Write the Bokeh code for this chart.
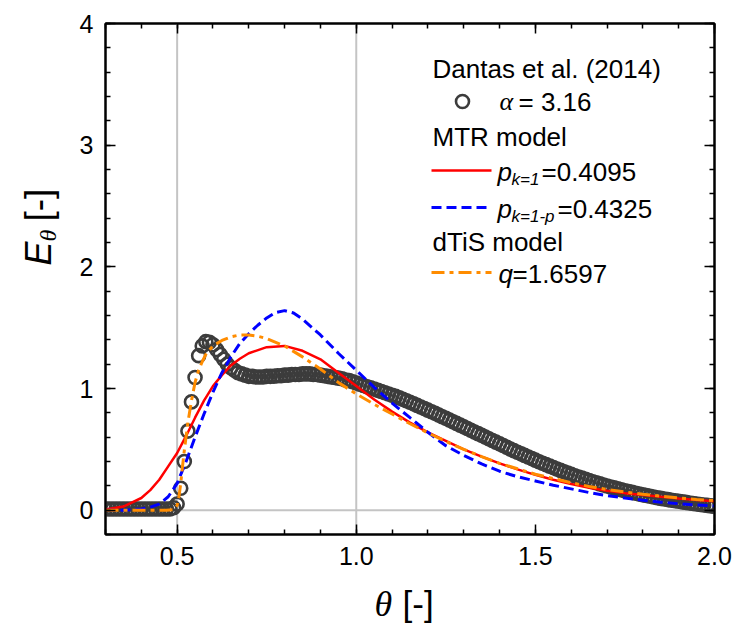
import numpy as np
from bokeh.plotting import figure
from bokeh.layouts import row, column
from bokeh.models import (Range1d, LinearAxis, SingleIntervalTicker, Span, Label,
                          PrintfTickFormatter, CustomJSTickFormatter)
from bokeh.embed import file_html
from bokeh.resources import INLINE

# ---------------- data ----------------
theta_exp = [
    0.30, 0.31, 0.32, 0.33, 0.34, 0.35, 0.36, 0.37, 0.38, 0.39,
    0.40, 0.41, 0.42, 0.43, 0.44, 0.45, 0.46, 0.47, 0.48, 0.49,
    0.50, 0.51, 0.52, 0.53, 0.54, 0.55, 0.56, 0.57, 0.58, 0.59,
    0.60, 0.61, 0.62, 0.63, 0.64, 0.65, 0.66, 0.67, 0.68, 0.69,
    0.70, 0.71, 0.72, 0.73, 0.74, 0.75, 0.76, 0.77, 0.78, 0.79,
    0.80, 0.81, 0.82, 0.83, 0.84, 0.85, 0.86, 0.87, 0.88, 0.89,
    0.90, 0.91, 0.92, 0.93, 0.94, 0.95, 0.96, 0.97, 0.98, 0.99,
    1.00, 1.01, 1.02, 1.03, 1.04, 1.05, 1.06, 1.07, 1.08, 1.09,
    1.10, 1.11, 1.12, 1.13, 1.14, 1.15, 1.16, 1.17, 1.18, 1.19,
    1.20, 1.21, 1.22, 1.23, 1.24, 1.25, 1.26, 1.27, 1.28, 1.29,
    1.30, 1.31, 1.32, 1.33, 1.34, 1.35, 1.36, 1.37, 1.38, 1.39,
    1.40, 1.41, 1.42, 1.43, 1.44, 1.45, 1.46, 1.47, 1.48, 1.49,
    1.50, 1.51, 1.52, 1.53, 1.54, 1.55, 1.56, 1.57, 1.58, 1.59,
    1.60, 1.61, 1.62, 1.63, 1.64, 1.65, 1.66, 1.67, 1.68, 1.69,
    1.70, 1.71, 1.72, 1.73, 1.74, 1.75, 1.76, 1.77, 1.78, 1.79,
    1.80, 1.81, 1.82, 1.83, 1.84, 1.85, 1.86, 1.87, 1.88, 1.89,
    1.90, 1.91, 1.92, 1.93, 1.94, 1.95, 1.96, 1.97, 1.98, 1.99,
    2.00,
]
E_exp = [
    0.01, 0.01, 0.01, 0.01, 0.01, 0.01, 0.01, 0.01, 0.01, 0.01,
    0.01, 0.01, 0.01, 0.01, 0.01, 0.01, 0.01, 0.01, 0.01, 0.02,
    0.05, 0.18, 0.40, 0.65, 0.89, 1.09, 1.27, 1.35, 1.385, 1.38,
    1.36, 1.32, 1.28, 1.24, 1.20, 1.17, 1.15, 1.13, 1.12, 1.11,
    1.10, 1.10, 1.095, 1.095, 1.095, 1.10, 1.10, 1.10, 1.105, 1.105,
    1.11, 1.11, 1.115, 1.115, 1.115, 1.12, 1.12, 1.12, 1.115, 1.115,
    1.11, 1.105, 1.10, 1.095, 1.09, 1.085, 1.08, 1.07, 1.065, 1.055,
    1.045, 1.035, 1.025, 1.015, 1.005, 0.995, 0.985, 0.975, 0.965, 0.955,
    0.945, 0.935, 0.923, 0.911, 0.899, 0.887, 0.874, 0.861, 0.848, 0.835,
    0.822, 0.809, 0.796, 0.782, 0.768, 0.755, 0.741, 0.727, 0.713, 0.699,
    0.685, 0.671, 0.657, 0.643, 0.629, 0.615, 0.601, 0.587, 0.573, 0.559,
    0.545, 0.531, 0.517, 0.503, 0.489, 0.476, 0.463, 0.450, 0.437, 0.424,
    0.411, 0.398, 0.386, 0.374, 0.362, 0.350, 0.338, 0.327, 0.316, 0.305,
    0.294, 0.283, 0.273, 0.263, 0.253, 0.243, 0.234, 0.225, 0.216, 0.207,
    0.199, 0.191, 0.183, 0.175, 0.167, 0.160, 0.153, 0.146, 0.139, 0.132,
    0.126, 0.120, 0.114, 0.108, 0.102, 0.097, 0.092, 0.087, 0.082, 0.077,
    0.073, 0.068, 0.064, 0.059, 0.055, 0.051, 0.047, 0.043, 0.039, 0.035,
    0.031,
]

# MTR model, p_{k=1} = 0.4095 (red solid)
theta_mtr1 = [0.30, 0.35, 0.40, 0.425, 0.45, 0.475, 0.50, 0.525, 0.55, 0.575,
              0.60, 0.625, 0.65, 0.675, 0.70, 0.75, 0.80, 0.85, 0.90, 0.95,
              1.00, 1.05, 1.10, 1.15, 1.20, 1.25, 1.30, 1.35, 1.40, 1.45,
              1.50, 1.55, 1.60, 1.65, 1.70, 1.75, 1.80, 1.85, 1.90, 1.95, 2.00]
E_mtr1 = [0.005, 0.03, 0.10, 0.165, 0.25, 0.36, 0.47, 0.61, 0.76, 0.90,
          1.02, 1.11, 1.19, 1.245, 1.29, 1.34, 1.35, 1.31, 1.24, 1.13,
          1.02, 0.91, 0.81, 0.72, 0.64, 0.57, 0.50, 0.44, 0.385, 0.335,
          0.29, 0.25, 0.215, 0.185, 0.16, 0.14, 0.125, 0.11, 0.096, 0.084, 0.074]

# MTR model, p_{k=1-p} = 0.4325 (blue dashed)
theta_mtr2 = [0.30, 0.35, 0.40, 0.425, 0.45, 0.475, 0.50, 0.525, 0.55, 0.575,
              0.60, 0.625, 0.65, 0.675, 0.70, 0.725, 0.75, 0.775, 0.80, 0.825,
              0.85, 0.90, 0.95, 1.00, 1.05, 1.10, 1.15, 1.20, 1.25, 1.30,
              1.35, 1.40, 1.45, 1.50, 1.55, 1.60, 1.65, 1.70, 1.75, 1.80,
              1.85, 1.90, 1.95, 2.00]
E_mtr2 = [0.0, 0.0, 0.01, 0.025, 0.05, 0.11, 0.22, 0.40, 0.60, 0.79,
          0.97, 1.13, 1.26, 1.37, 1.45, 1.52, 1.58, 1.625, 1.64, 1.62,
          1.57, 1.44, 1.29, 1.15, 1.01, 0.88, 0.76, 0.64, 0.53, 0.45,
          0.38, 0.32, 0.275, 0.24, 0.205, 0.175, 0.145, 0.12, 0.10, 0.082,
          0.066, 0.053, 0.043, 0.035]

# dTiS model, q = 1.6597 (orange dash-dot)
theta_dtis = [0.30, 0.40, 0.47, 0.49, 0.50, 0.505, 0.51, 0.515, 0.52, 0.53,
              0.54, 0.55, 0.56, 0.57, 0.58, 0.60, 0.625, 0.65, 0.675, 0.70,
              0.725, 0.75, 0.80, 0.85, 0.90, 0.95, 1.00, 1.05, 1.10, 1.15,
              1.20, 1.25, 1.30, 1.35, 1.40, 1.45, 1.50, 1.55, 1.60, 1.65,
              1.70, 1.75, 1.80, 1.85, 1.90, 1.95, 2.00]
E_dtis = [0.0, 0.0, 0.0, 0.005, 0.04, 0.11, 0.22, 0.36, 0.49, 0.72,
          0.90, 1.05, 1.15, 1.22, 1.28, 1.35, 1.395, 1.425, 1.44, 1.44,
          1.43, 1.41, 1.35, 1.26, 1.16, 1.05, 0.955, 0.87, 0.79, 0.71,
          0.635, 0.565, 0.50, 0.44, 0.385, 0.34, 0.295, 0.26, 0.225, 0.195,
          0.17, 0.15, 0.13, 0.115, 0.10, 0.088, 0.078]

x_range = (0.3, 2.0)
y_range = (-0.2, 4.0)
ref_x = [0.5, 1.0]
ref_y = [0.0]

# ---------------- layout (page pixels) ----------------
W, H = 738, 626
LW = 60            # width of the strip holding the y-axis title
MH = 585           # height of the main figure
FL, FR, FT, FB = 105, 714, 23, 534  # frame edges in page pixels

def px2x(px):
    return x_range[0] + (px - FL) / (FR - FL) * (x_range[1] - x_range[0])

def px2y(py):
    return y_range[0] + (FB - py) / (FB - FT) * (y_range[1] - y_range[0])

SANS = "Liberation Sans"
SERIF = "Liberation Serif"

p = figure(width=W - LW, height=MH, x_range=Range1d(*x_range), y_range=Range1d(*y_range),
           output_backend="svg", toolbar_location=None,
           x_axis_type=None, y_axis_type=None,
           min_border_left=FL - LW, min_border_right=W - FR,
           min_border_top=FT, min_border_bottom=MH - FB)
p.outline_line_color = "black"
p.outline_line_width = 2
p.background_fill_color = "white"
p.border_fill_color = "white"

def style_axis(ax, show_labels):
    ax.axis_line_width = 2
    ax.axis_line_color = "black"
    ax.major_tick_in = 10
    ax.major_tick_out = 0
    ax.minor_tick_in = 5
    ax.minor_tick_out = 0
    ax.major_tick_line_width = 1.5
    ax.minor_tick_line_width = 1.5
    ax.major_tick_line_color = "black"
    ax.minor_tick_line_color = "black"
    ax.major_label_text_font = SANS
    ax.major_label_text_font_size = "25px"
    ax.major_label_text_color = "black"
    if not show_labels:
        ax.formatter = CustomJSTickFormatter(code="return ''")
        ax.major_label_text_font_size = "1px"

xb = LinearAxis(ticker=SingleIntervalTicker(interval=0.5, num_minor_ticks=5),
                formatter=PrintfTickFormatter(format="%.1f"))
style_axis(xb, True)
xb.major_label_standoff = 12
p.add_layout(xb, "below")
xt = LinearAxis(ticker=SingleIntervalTicker(interval=0.5, num_minor_ticks=5))
style_axis(xt, False)
p.add_layout(xt, "above")
yl = LinearAxis(ticker=SingleIntervalTicker(interval=1, num_minor_ticks=5),
                formatter=PrintfTickFormatter(format="%d"))
style_axis(yl, True)
yl.major_label_standoff = 12
p.add_layout(yl, "left")
yr = LinearAxis(ticker=SingleIntervalTicker(interval=1, num_minor_ticks=5))
style_axis(yr, False)
p.add_layout(yr, "right")

for v in ref_x:
    p.add_layout(Span(location=v, dimension="height", line_color="#c4c4c4",
                      line_width=2, level="underlay"))
for v in ref_y:
    p.add_layout(Span(location=v, dimension="width", line_color="#c4c4c4",
                      line_width=2, level="underlay"))

# ---------------- series ----------------
CIRC = "#3c3c3c"
RED, BLUE, ORANGE = "#FF0000", "#0000FF", "#FF8C00"
BLUE_DASH, OR_DASH = "10 5", "13 5 4 5"

p.scatter(theta_exp, E_exp, marker="circle", size=13, fill_color=None,
          line_color=CIRC, line_width=2.6)
p.line(theta_mtr1, E_mtr1, line_color=RED, line_width=2.5)
p.line(theta_mtr2, E_mtr2, line_color=BLUE, line_width=3, line_dash=BLUE_DASH)
p.line(theta_dtis, E_dtis, line_color=ORANGE, line_width=3, line_dash=OR_DASH)

# ---------------- text helper ----------------
def txt(fig, ox, oy, oh, px, py, s, size, font=SANS, style="normal", angle=0):
    """Place text at page pixel (px, py) in a figure whose frame starts at page
    x = ox and whose frame bottom is at page y = oy + oh."""
    fig.add_layout(Label(x=px - ox, y=(oy + oh) - py, x_units="screen", y_units="screen",
                         text=s, text_font=font,
                         text_font_size=f"{size}px", text_font_style=style,
                         text_color="black", text_baseline="middle",
                         text_align="left", angle=angle, angle_units="deg"))

def ptxt(px, py, s, size, font=SANS, style="normal"):
    txt(p, FL, 0, FB, px, py, s, size, font, style)

# ---------------- legend ----------------
LS = 26
ptxt(432, 68, "Dantas et al. (2014)", LS)
p.scatter([px2x(462)], [px2y(101)], marker="circle", size=13, fill_color=None,
          line_color=CIRC, line_width=2.6)
ptxt(499, 101, "\u03b1", LS, SERIF, "italic")
ptxt(518, 101, "= 3.16", LS)
ptxt(432, 136, "MTR model", LS)

p.line([px2x(431), px2x(491)], [px2y(170)] * 2, line_color=RED, line_width=2.5)
ptxt(497, 171, "p", LS, SANS, "italic")
ptxt(511, 179, "k=1", 17, SANS, "italic")
ptxt(541, 171, "=0.4095", LS)

p.line([px2x(431), px2x(491)], [px2y(207)] * 2, line_color=BLUE, line_width=3,
       line_dash=BLUE_DASH)
ptxt(497, 208, "p", LS, SANS, "italic")
ptxt(511, 216, "k=1-p", 17, SANS, "italic")
ptxt(557, 208, "=0.4325", LS)

ptxt(432, 241, "dTiS model", LS)
p.line([px2x(431), px2x(491)], [px2y(272)] * 2, line_color=ORANGE, line_width=3,
       line_dash=OR_DASH)
ptxt(498, 273, "q", LS, SANS, "italic")
ptxt(512, 273, "=1.6597", LS)

# ---------------- title strips ----------------
def blank(width, height):
    f = figure(width=width, height=height, x_range=Range1d(0, 1), y_range=Range1d(0, 1),
               output_backend="svg", toolbar_location=None,
               x_axis_type=None, y_axis_type=None,
               min_border_left=0, min_border_right=0, min_border_top=0, min_border_bottom=0)
    f.outline_line_color = None
    f.background_fill_color = "white"
    f.border_fill_color = "white"
    f.grid.visible = False
    return f

# y-axis title (left strip, page x 0..LW, page y 0..MH)
left = blank(LW, MH)
txt(left, 0, 0, MH, 38, 316, "E", 36, SANS, "italic", angle=90)
txt(left, 0, 0, MH, 47, 292, "\u03b8", 24, SERIF, "italic", angle=90)
txt(left, 0, 0, MH, 38, 272, "[-]", 37, SANS, angle=90)

# x-axis title (bottom strip, full page width, page y MH..H)
bottom = blank(W, H - MH)
txt(bottom, 0, MH, H - MH, 374, 603, "\u03b8", 36, SERIF, "italic")
txt(bottom, 0, MH, H - MH, 402, 603, "[-]", 35, SANS)

layout = column(row(left, p, spacing=0), bottom, spacing=0)
open("out.html", "w").write(file_html(layout, INLINE))
